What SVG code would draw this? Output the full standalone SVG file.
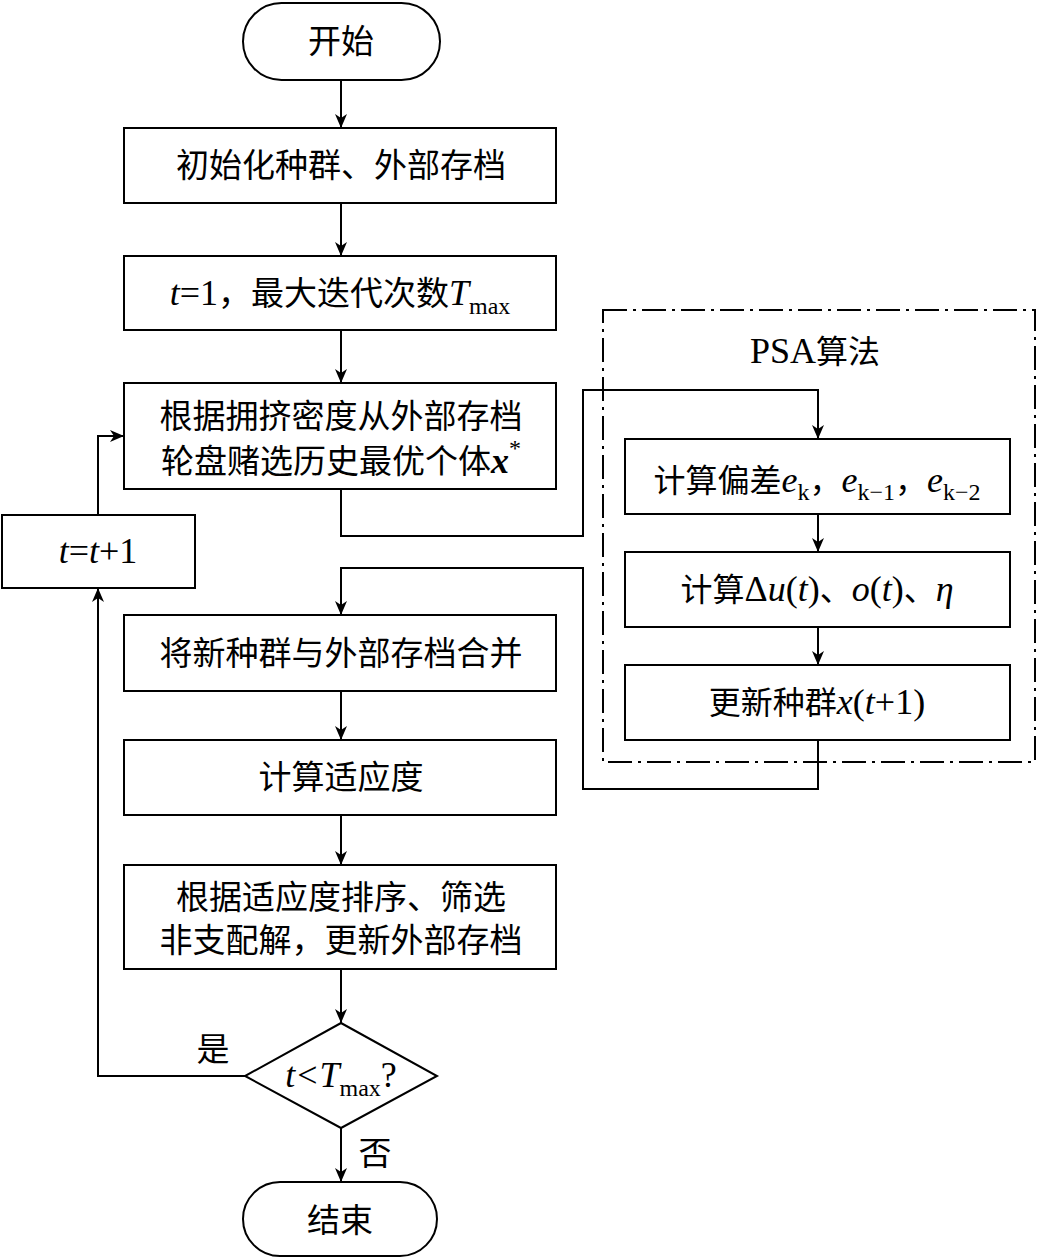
<svg xmlns="http://www.w3.org/2000/svg" width="1037" height="1258" viewBox="0 0 1037 1258">
<style>
.b{fill:#fff;stroke:#000;stroke-width:2}
.c{fill:none;stroke:#000;stroke-width:2}
.d{fill:none;stroke:#000;stroke-width:2;stroke-dasharray:24 6 3 6}
text{font-family:"Liberation Serif","Noto Sans CJK SC",serif;font-size:33px;fill:#000;text-anchor:middle}
.p{font-size:32px}
.i{font-style:italic}
.L{font-size:36px}
.s{font-size:24px}
</style>
<defs>
<marker id="a" markerUnits="userSpaceOnUse" markerWidth="14" markerHeight="12" refX="14" refY="6" orient="auto">
<path d="M0,0 L14,6 L0,12 L4,6 z" fill="#000"/>
</marker>
</defs>
<rect width="1037" height="1258" fill="#fff"/>
<g id="connectors">
<line class="c" x1="341" y1="80" x2="341" y2="128" marker-end="url(#a)"/>
<line class="c" x1="341" y1="203" x2="341" y2="256" marker-end="url(#a)"/>
<line class="c" x1="341" y1="330" x2="341" y2="383" marker-end="url(#a)"/>
<polyline class="c" points="341,489 341,536 583,536 583,390 818,390 818,439" marker-end="url(#a)"/>
<line class="c" x1="818" y1="514" x2="818" y2="552" marker-end="url(#a)"/>
<line class="c" x1="818" y1="627" x2="818" y2="665" marker-end="url(#a)"/>
<polyline class="c" points="818,740 818,789 583,789 583,568 341,568 341,615" marker-end="url(#a)"/>
<line class="c" x1="341" y1="691" x2="341" y2="740" marker-end="url(#a)"/>
<line class="c" x1="341" y1="815" x2="341" y2="865" marker-end="url(#a)"/>
<line class="c" x1="341" y1="969" x2="341" y2="1023" marker-end="url(#a)"/>
<line class="c" x1="341" y1="1128" x2="341" y2="1182" marker-end="url(#a)"/>
<polyline class="c" points="245,1076 98,1076 98,588" marker-end="url(#a)"/>
<polyline class="c" points="98,515 98,436 124,436" marker-end="url(#a)"/>
<text x="213" y="1061">是</text>
<text x="375" y="1165">否</text>
</g>
<g id="psa-group">
<rect class="d" x="603" y="310" width="432" height="452"/>
<text class="p" x="815" y="363"><tspan class="L">PSA</tspan>算法</text>
</g>
<g id="start">
<rect class="b" x="243" y="3" width="197" height="77" rx="38.5"/>
<text x="341" y="53">开始</text>
</g>
<g id="init">
<rect class="b" x="124" y="128" width="432" height="75"/>
<text x="341" y="177">初始化种群、外部存档</text>
</g>
<g id="tmax">
<rect class="b" x="124" y="256" width="432" height="74"/>
<text x="340" y="305"><tspan class="i L">t</tspan><tspan class="L">=1</tspan>，最大迭代次数<tspan class="i L">T</tspan><tspan class="s" dy="9">max</tspan></text>
</g>
<g id="select">
<rect class="b" x="124" y="383" width="432" height="106"/>
<text x="341" y="428">根据拥挤密度从外部存档</text>
<text x="341" y="473">轮盘赌选历史最优个体<tspan class="i L" font-weight="bold">x</tspan><tspan class="s" dy="-17">*</tspan></text>
</g>
<g id="tinc">
<rect class="b" x="2" y="515" width="193" height="73"/>
<text class="L" x="98" y="563"><tspan class="i">t</tspan>=<tspan class="i">t</tspan>+1</text>
</g>
<g id="merge">
<rect class="b" x="124" y="615" width="432" height="76"/>
<text x="341" y="665">将新种群与外部存档合并</text>
</g>
<g id="fitness">
<rect class="b" x="124" y="740" width="432" height="75"/>
<text x="341" y="789">计算适应度</text>
</g>
<g id="sort">
<rect class="b" x="124" y="865" width="432" height="104"/>
<text x="341" y="909">根据适应度排序、筛选</text>
<text x="341" y="952">非支配解，更新外部存档</text>
</g>
<g id="decision">
<polygon class="b" points="341,1023 437,1076 341,1128 245,1076"/>
<text class="L" x="341" y="1087"><tspan class="i">t</tspan><tspan dx="2">&lt;</tspan><tspan class="i" dx="2">T</tspan><tspan class="s" dy="9">max</tspan><tspan dy="-9">?</tspan></text>
</g>
<g id="end">
<rect class="b" x="243" y="1182" width="194" height="74" rx="37"/>
<text x="340" y="1232">结束</text>
</g>
<g id="psa1">
<rect class="b" x="625" y="439" width="385" height="75"/>
<text class="p" x="817" y="492">计算偏差<tspan class="i L">e</tspan><tspan class="s" dy="8">k</tspan><tspan dy="-8">，</tspan><tspan class="i L">e</tspan><tspan class="s" dy="8">k−1</tspan><tspan dy="-8">，</tspan><tspan class="i L">e</tspan><tspan class="s" dy="8">k−2</tspan></text>
</g>
<g id="psa2">
<rect class="b" x="625" y="552" width="385" height="75"/>
<text class="p" x="817" y="601">计算<tspan class="L">Δ</tspan><tspan class="i L">u</tspan><tspan class="L">(</tspan><tspan class="i L">t</tspan><tspan class="L">)</tspan>、<tspan class="i L">o</tspan><tspan class="L">(</tspan><tspan class="i L">t</tspan><tspan class="L">)</tspan>、<tspan class="i L">η</tspan></text>
</g>
<g id="psa3">
<rect class="b" x="625" y="665" width="385" height="75"/>
<text class="p" x="817" y="714">更新种群<tspan class="i L">x</tspan><tspan class="L">(</tspan><tspan class="i L">t</tspan><tspan class="L">+1)</tspan></text>
</g>
</svg>
